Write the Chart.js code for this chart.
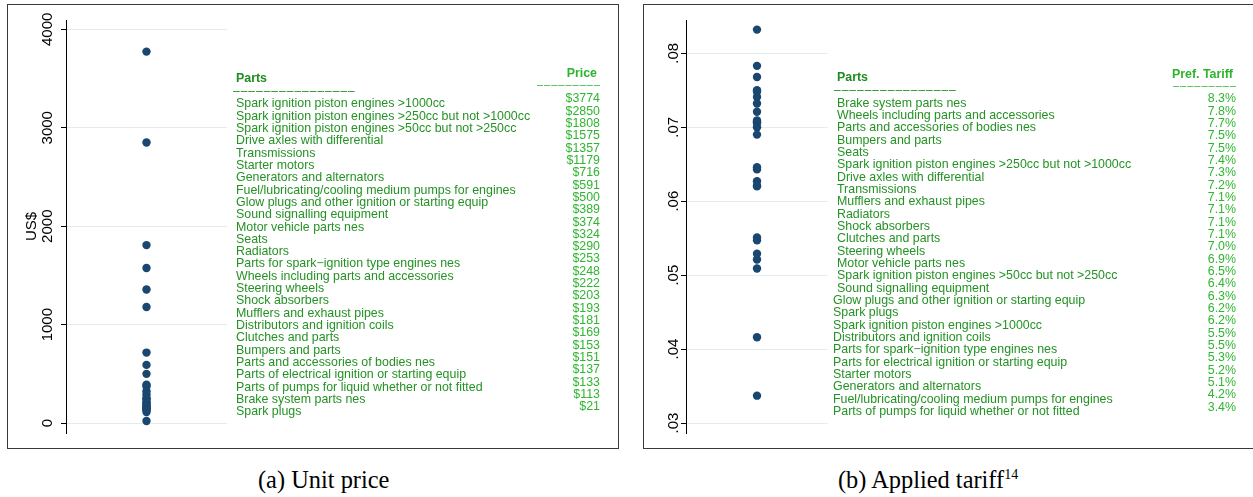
<!DOCTYPE html>
<html>
<head>
<meta charset="utf-8">
<script src="https://cdn.jsdelivr.net/npm/chart.js@4.4.1/dist/chart.umd.min.js"></script>
<style>
  html, body { margin: 0; padding: 0; background: #fff; }
  #page { position: relative; width: 1253px; height: 497px; overflow: hidden; background: #fff;
          font-family: "Liberation Sans", Arial, Helvetica, sans-serif; }
  .panel { position: absolute; border: 1px solid #3a3a3a; box-sizing: border-box; }
  .cv { position: absolute; }
  .t { position: absolute; white-space: nowrap; font-size: 12.4px; line-height: 14px; height: 14px; }
  .name { color: #249224; }
  .val { color: #2fb52f; text-align: right; width: 200px; }
  .head { font-weight: bold; }
  .headL { color: #1f8c1f; }
  .headR { color: #2cb42c; text-align: right; width: 200px; }
  .dashL { font-size: 12px; letter-spacing: 1px; }
  .dashR { font-size: 11px; letter-spacing: 1px; }
  .cap { position: absolute; white-space: nowrap; font-family: "Liberation Serif", "Times New Roman", serif;
         font-size: 24.4px; line-height: 28px; color: #000; }
  .cap sup { font-size: 14px; vertical-align: 0; position: relative; top: -9px; }
</style>
</head>
<body>
<div id="page">
  <div class="panel" style="left:7px;top:4px;width:612px;height:445px;"></div>
  <div class="panel" style="left:643px;top:4px;width:620px;height:445px;"></div>
  <canvas id="priceChart" class="cv" width="230" height="440" style="left:8px;top:5px;width:230px;height:440px;"></canvas>
  <canvas id="tariffChart" class="cv" width="200" height="440" style="left:644px;top:5px;width:200px;height:440px;"></canvas>
  <div class="cap" style="left:258px;top:466px;">(a) Unit price</div>
  <div class="cap" style="left:838px;top:466px;">(b) Applied tariff<sup>14</sup></div>
</div>

<script>
// ---- unit prices per part (US$) ----
const priceParts = [
  "Spark ignition piston engines >1000cc",
  "Spark ignition piston engines >250cc but not >1000cc",
  "Spark ignition piston engines >50cc but not >250cc",
  "Drive axles with differential",
  "Transmissions",
  "Starter motors",
  "Generators and alternators",
  "Fuel/lubricating/cooling medium pumps for engines",
  "Glow plugs and other ignition or starting equip",
  "Sound signalling equipment",
  "Motor vehicle parts nes",
  "Seats",
  "Radiators",
  "Parts for spark\u2212ignition type engines nes",
  "Wheels including parts and accessories",
  "Steering wheels",
  "Shock absorbers",
  "Mufflers and exhaust pipes",
  "Distributors and ignition coils",
  "Clutches and parts",
  "Bumpers and parts",
  "Parts and accessories of bodies nes",
  "Parts of electrical ignition or starting equip",
  "Parts of pumps for liquid whether or not fitted",
  "Brake system parts nes",
  "Spark plugs"
];
const priceValues = [3774, 2850, 1808, 1575, 1357, 1179, 716, 591, 500, 389, 374, 324, 290,
                     253, 248, 222, 203, 193, 181, 169, 153, 151, 137, 133, 113, 21];
const priceTicks = [0, 1000, 2000, 3000, 4000];

// ---- preferential tariff per part (share) ----
const tariffParts = [
  "Brake system parts nes",
  "Wheels including parts and accessories",
  "Parts and accessories of bodies nes",
  "Bumpers and parts",
  "Seats",
  "Spark ignition piston engines >250cc but not >1000cc",
  "Drive axles with differential",
  "Transmissions",
  "Mufflers and exhaust pipes",
  "Radiators",
  "Shock absorbers",
  "Clutches and parts",
  "Steering wheels",
  "Motor vehicle parts nes",
  "Spark ignition piston engines >50cc but not >250cc",
  "Sound signalling equipment",
  "Glow plugs and other ignition or starting equip",
  "Spark plugs",
  "Spark ignition piston engines >1000cc",
  "Distributors and ignition coils",
  "Parts for spark\u2212ignition type engines nes",
  "Parts for electrical ignition or starting equip",
  "Starter motors",
  "Generators and alternators",
  "Fuel/lubricating/cooling medium pumps for engines",
  "Parts of pumps for liquid whether or not fitted"
];
const tariffValues = [0.0832, 0.0783, 0.0768, 0.0750, 0.0748, 0.0741, 0.0732, 0.0721, 0.0709,
                      0.0707, 0.0706, 0.0706, 0.0700, 0.0690, 0.0646, 0.0643, 0.0627, 0.0621,
                      0.0620, 0.0551, 0.0547, 0.0529, 0.0521, 0.0509, 0.0416, 0.0337];
const tariffTicks = [0.03, 0.04, 0.05, 0.06, 0.07, 0.08];

const fmtPrice = v => "$" + v;
const fmtTariff = v => (v * 100).toFixed(1) + "%";
const fmtTick = v => v.toFixed(2).replace(/^0/, "");

Chart.defaults.font.family = '"Liberation Sans", Arial, Helvetica, sans-serif';
Chart.defaults.color = "#000";

const DOT = "#1a476f";
const GRID = "#e3edf0";

function dotChart(id, values, yMin, yMax, ticks, tickFmt, axisWidth, pad, title) {
  const ctx = document.getElementById(id).getContext("2d");
  return new Chart(ctx, {
    type: "scatter",
    data: {
      datasets: [{
        data: values.map(v => ({ x: 0, y: v })),
        pointRadius: 4.2,
        pointHoverRadius: 4.2,
        pointBackgroundColor: DOT,
        pointBorderColor: DOT,
        pointBorderWidth: 0
      }]
    },
    options: {
      responsive: false,
      devicePixelRatio: 1,
      animation: false,
      events: [],
      layout: { padding: pad },
      plugins: { legend: { display: false }, tooltip: { enabled: false } },
      scales: {
        x: { type: "linear", min: -1, max: 1, display: false },
        y: {
          type: "linear",
          min: yMin,
          max: yMax,
          afterBuildTicks: s => { s.ticks = ticks.map(v => ({ value: v })); },
          afterFit: s => { s.width = axisWidth; },
          grid: { color: GRID, lineWidth: 1, tickColor: "#000", tickLength: 5, drawTicks: true },
          border: { display: true, color: "#000", width: 1 },
          ticks: {
            callback: v => tickFmt(v),
            font: { size: 15 },
            color: "#000",
            minRotation: 90,
            maxRotation: 90,
            crossAlign: "center",
            padding: -3.6
          },
          title: title ? {
            display: true,
            text: title,
            font: { size: 15 },
            color: "#000",
            padding: { top: 15, bottom: 0 }
          } : { display: false }
        }
      }
    }
  });
}

dotChart("priceChart", priceValues, -101, 4095, priceTicks, v => String(v), 58,
         { top: 15, bottom: 12, left: 0, right: 11 }, "US$");
dotChart("tariffChart", tariffValues, 0.02865, 0.0845, tariffTicks, fmtTick, 42,
         { top: 15, bottom: 12, left: 0, right: 16 }, null);

// ---- side tables listing each part with its value ----
const page = document.getElementById("page");
function addText(cls, text, x, cy, rightAligned) {
  const d = document.createElement("div");
  d.className = "t " + cls;
  d.textContent = text;
  d.style.top = (cy - 7) + "px";
  d.style.left = (rightAligned ? x - 200 : x) + "px";
  page.appendChild(d);
  return d;
}

function table(cfg) {
  addText("head headL", "Parts", cfg.nameX, cfg.headNameY, false);
  addText("name dashL", "\u2013".repeat(16), cfg.nameX - 3, cfg.dashNameY, false);
  addText("head headR", cfg.valueHead, cfg.valueRight - 3, cfg.headValY, true);
  addText("val dashR", "\u2013".repeat(9), cfg.valueRight + 1, cfg.dashValY, true);
  cfg.names.forEach((n, i) => {
    const x = (cfg.shiftFrom !== null && i >= cfg.shiftFrom) ? cfg.nameX - 4 : cfg.nameX;
    addText("name", n, x, cfg.rowY0 + cfg.rowStep * i, false);
  });
  cfg.values.forEach((v, i) => {
    addText("val", cfg.fmt(v), cfg.valueRight, cfg.valY0 + cfg.rowStep * i, true);
  });
}

table({
  names: priceParts, values: priceValues, fmt: fmtPrice, valueHead: "Price",
  nameX: 236, headNameY: 78.3, dashNameY: 90.5, rowY0: 103.3,
  valueRight: 600, headValY: 72.7, dashValY: 84, valY0: 98.3,
  rowStep: 12.32, shiftFrom: null
});
table({
  names: tariffParts, values: tariffValues, fmt: fmtTariff, valueHead: "Pref. Tariff",
  nameX: 837, headNameY: 77.3, dashNameY: 90, rowY0: 102.7,
  valueRight: 1236, headValY: 74, dashValY: 85, valY0: 98.3,
  rowStep: 12.33, shiftFrom: 16
});
</script>
</body>
</html>
